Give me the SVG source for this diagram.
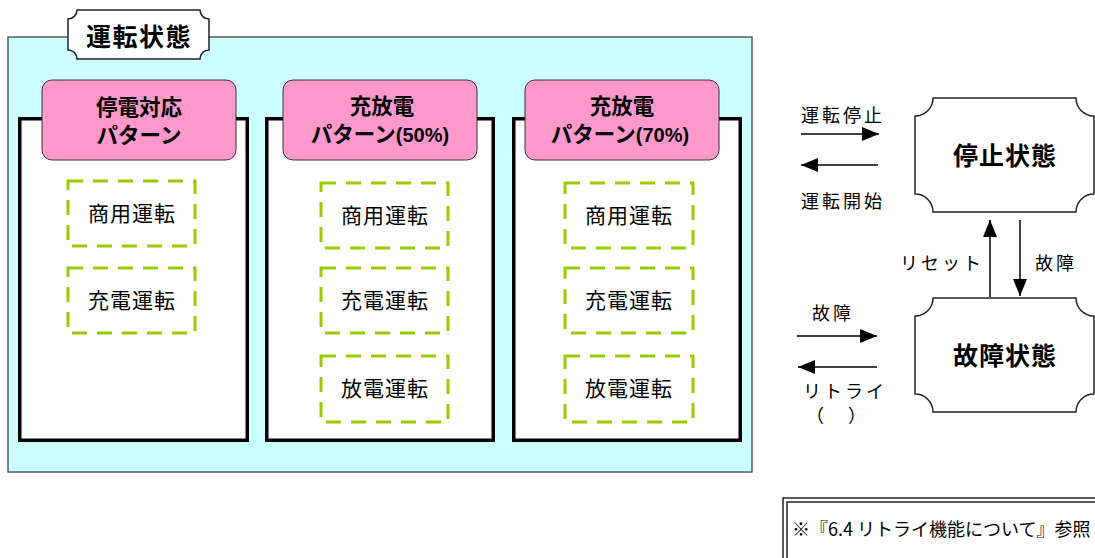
<svg xmlns="http://www.w3.org/2000/svg" width="1095" height="558" viewBox="0 0 1095 558">
<style>
.jp{font-family:"Noto Sans CJK JP","Noto Sans",sans-serif;fill:#000}
.b{font-weight:bold}
.panel{fill:#fff;stroke:#000;stroke-width:3.5}
.pink{fill:#FF99CC;stroke:#333;stroke-width:1}
.dash{fill:none;stroke:#99CC00;stroke-width:3;stroke-dasharray:15 10}
.plaque{fill:#fff;stroke:#222;stroke-width:1.5}
.mode{font-size:21px;letter-spacing:1px;text-anchor:middle}
.ptitle{font-size:21.5px;font-weight:bold;text-anchor:middle}
.lbl{font-size:18px;letter-spacing:3px}
.arr{stroke:#000;stroke-width:1.5;fill:none}
</style>
<defs>
<marker id="ah" markerUnits="userSpaceOnUse" markerWidth="18" markerHeight="16" refX="17" refY="8" orient="auto">
<path d="M0,1 L17,8 L0,15 Z" fill="#000"/>
</marker>
</defs>

<g id="operating">
<rect x="8" y="37" width="744" height="435" fill="#CCFFFF" stroke="#333" stroke-width="1.2"/>
<path class="plaque" d="M77,10 L200,10 A9,9 0 0 0 209,19 L209,50 A9,9 0 0 0 200,59 L77,59 A9,9 0 0 0 68,50 L68,19 A9,9 0 0 0 77,10 Z"/>
<text class="jp b" x="139" y="46" font-size="25" letter-spacing="1.5" text-anchor="middle">運転状態</text>
</g>

<g id="panel1">
<rect class="panel" x="19.75" y="118.75" width="227.5" height="321.5"/>
<rect class="pink" x="42" y="80" width="194" height="80" rx="10"/>
<text class="jp ptitle" x="139" y="115">停電対応</text>
<text class="jp ptitle" x="139" y="143">パターン</text>
<rect class="dash" x="68" y="181" width="127" height="65"/>
<text class="jp mode" x="132" y="221">商用運転</text>
<rect class="dash" x="68" y="268" width="127" height="65"/>
<text class="jp mode" x="132" y="308">充電運転</text>
</g>

<g id="panel2">
<rect class="panel" x="266.75" y="118.75" width="226.5" height="321.5"/>
<rect class="pink" x="283" y="80" width="194" height="80" rx="10"/>
<text class="jp ptitle" x="382" y="114">充放電</text>
<text class="jp ptitle" x="380" y="142">パターン<tspan font-family="Liberation Sans,sans-serif" font-size="20">(50%)</tspan></text>
<rect class="dash" x="321" y="183" width="127" height="65"/>
<text class="jp mode" x="385" y="223">商用運転</text>
<rect class="dash" x="321" y="268" width="127" height="65"/>
<text class="jp mode" x="385" y="308">充電運転</text>
<rect class="dash" x="321" y="356" width="127" height="66"/>
<text class="jp mode" x="385" y="396">放電運転</text>
</g>

<g id="panel3">
<rect class="panel" x="513.75" y="118.75" width="226.5" height="321.5"/>
<rect class="pink" x="525" y="80" width="194" height="80" rx="10"/>
<text class="jp ptitle" x="622" y="114">充放電</text>
<text class="jp ptitle" x="620" y="142">パターン<tspan font-family="Liberation Sans,sans-serif" font-size="20">(70%)</tspan></text>
<rect class="dash" x="565" y="183" width="128" height="65"/>
<text class="jp mode" x="629" y="223">商用運転</text>
<rect class="dash" x="565" y="268" width="128" height="65"/>
<text class="jp mode" x="629" y="308">充電運転</text>
<rect class="dash" x="565" y="356" width="128" height="66"/>
<text class="jp mode" x="629" y="396">放電運転</text>
</g>

<g id="stopped">
<path class="plaque" d="M933,98 L1076,98 A18,18 0 0 0 1094,116 L1094,194 A18,18 0 0 0 1076,212 L933,212 A18,18 0 0 0 915,194 L915,116 A18,18 0 0 0 933,98 Z"/>
<text class="jp b" x="1005" y="165" font-size="25" letter-spacing="1" text-anchor="middle">停止状態</text>
</g>

<g id="fault">
<path class="plaque" d="M933,298 L1076,298 A18,18 0 0 0 1094,316 L1094,394 A18,18 0 0 0 1076,412 L933,412 A18,18 0 0 0 915,394 L915,316 A18,18 0 0 0 933,298 Z"/>
<text class="jp b" x="1005" y="365" font-size="25" letter-spacing="1" text-anchor="middle">故障状態</text>
</g>

<g id="connectors">
<line class="arr" x1="801" y1="134" x2="879" y2="134" marker-end="url(#ah)"/>
<line class="arr" x1="878" y1="165" x2="801" y2="165" marker-end="url(#ah)"/>
<line class="arr" x1="990" y1="297" x2="990" y2="220" marker-end="url(#ah)"/>
<line class="arr" x1="1020" y1="220" x2="1020" y2="296" marker-end="url(#ah)"/>
<line class="arr" x1="797" y1="336" x2="877" y2="336" marker-end="url(#ah)"/>
<line class="arr" x1="877" y1="367" x2="798" y2="367" marker-end="url(#ah)"/>
<text class="jp lbl" x="801" y="122">運転停止</text>
<text class="jp lbl" x="801" y="208">運転開始</text>
<text class="jp lbl" x="900" y="270">リセット</text>
<text class="jp lbl" x="1035" y="270">故障</text>
<text class="jp lbl" x="812" y="320">故障</text>
<text class="jp lbl" x="803" y="398">リトライ</text>
<text class="jp lbl" x="806" y="422" letter-spacing="9">（　）</text>
</g>

<g id="note">
<rect x="783" y="498" width="330" height="80" fill="#fff" stroke="#000" stroke-width="1.3"/>
<rect x="787" y="502" width="330" height="80" fill="none" stroke="#000" stroke-width="1.3"/>
<text class="jp" x="792" y="536" font-size="18">※『6.4 リトライ機能について』参照</text>
</g>
</svg>
